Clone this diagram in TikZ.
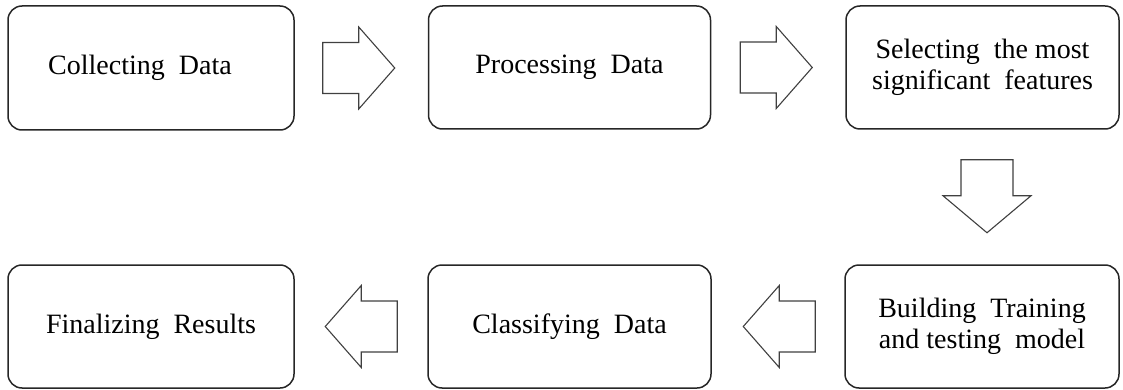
\documentclass[tikz,border=0pt]{standalone}
\usepackage{fontspec}
\setmainfont{Liberation Serif}
\usetikzlibrary{calc}
\newcommand\dsp{\hspace{0.5em}}
\tikzset{
  stepbox/.style={draw=black!85, line width=1.5pt, rounded corners=14pt, align=center,
    font=\fontsize{28}{31}\selectfont, inner sep=0pt},
  blockarr/.style={draw=black!75, line width=1.1pt, fill=white, line join=miter},
  rarrow/.pic={\draw[blockarr] (0,-25.5) -- (36,-25.5) -- (36,-41) -- (72,0) -- (36,41) -- (36,25.5) -- (0,25.5) -- cycle;},
  darrow/.pic={\draw[blockarr] (0,-26) -- (36,-26) -- (36,-44) -- (73,0) -- (36,44) -- (36,26) -- (0,26) -- cycle;}
}
\begin{document}
\begin{tikzpicture}[x=1pt,y=-1pt]
\useasboundingbox (0,0) rectangle (1123,390);
\node[stepbox, minimum width=286pt, minimum height=124pt] (b1) at (151,68) {Collecting\dsp Data\hspace{22pt}};
\node[stepbox, minimum width=282pt, minimum height=123pt] (b2) at (569.5,67.5) {Processing\dsp Data};
\node[stepbox, minimum width=273pt, minimum height=123pt] (b3) at (982.5,67.5) {Selecting\dsp the most\\significant\dsp features};
\node[stepbox, minimum width=274pt, minimum height=123pt] (b6) at (982,326.5) {Building\dsp Training\\and testing\dsp model};
\node[stepbox, minimum width=283pt, minimum height=123pt] (b5) at (569.5,326.5) {Classifying\dsp Data};
\node[stepbox, minimum width=286pt, minimum height=123pt] (b4) at (151,326.5) {Finalizing\dsp Results};
\path ($(b1.east)+(28,0)$) pic {rarrow};
\path ($(b2.east)+(29,0)$) pic {rarrow};
\path ($(b3.south)+(4.5,30)$) pic[rotate=-90] {darrow};
\path ($(b6.west)+(-29,0)$) pic[rotate=180] {rarrow};
\path ($(b5.west)+(-30,0)$) pic[rotate=180] {rarrow};
\end{tikzpicture}
\end{document}
